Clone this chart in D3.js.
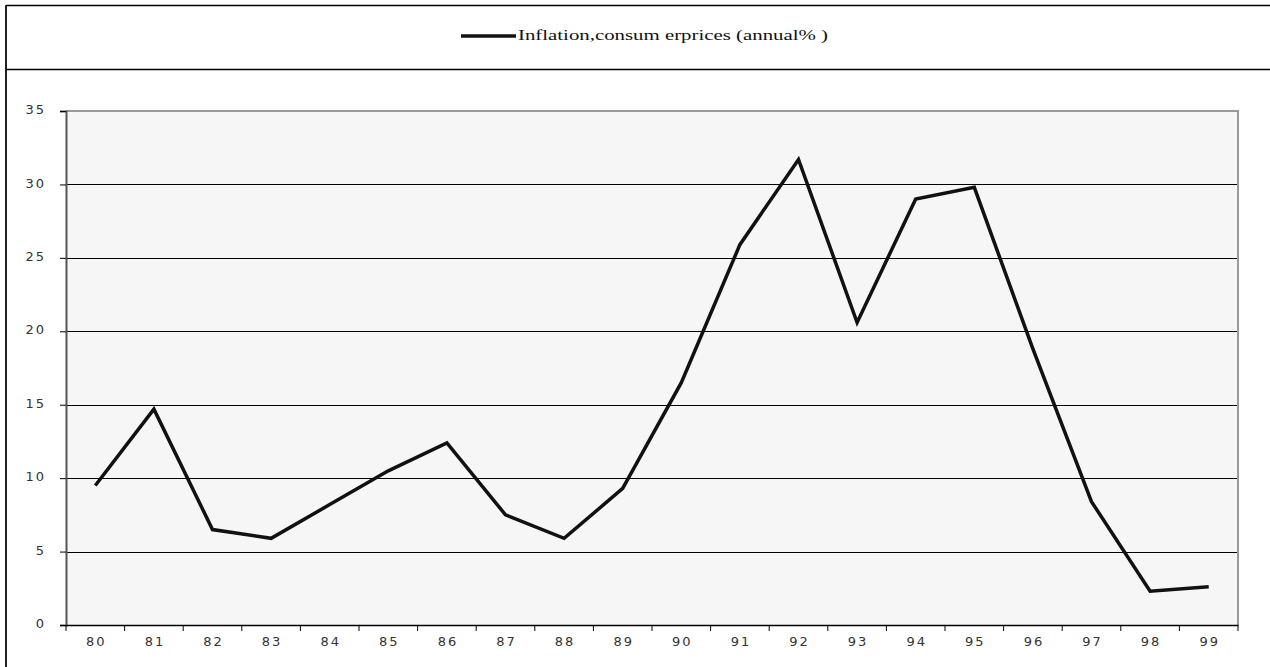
<!DOCTYPE html>
<html><head><meta charset="utf-8">
<script src="https://cdn.jsdelivr.net/npm/d3@7"></script>
<style>
html,body{margin:0;padding:0;background:#fff;}
svg{display:block;}
</style></head>
<body>
<svg id="chart" width="1270" height="667"></svg>
<script>
const categories = ["80","81","82","83","84","85","86","87","88","89","90","91","92","93","94","95","96","97","98","99"];
const inflation = [9.5,14.7,6.5,5.9,8.2,10.5,12.4,7.5,5.9,9.3,16.5,25.9,31.7,20.6,29.0,29.8,18.8,8.4,2.3,2.6];
const yTicks = [0,5,10,15,20,25,30,35];
const seriesName = "Inflation,consum erprices (annual% )";

const svg = d3.select("#chart");
const L = 66, R = 1238, T = 111, B = 625;

// outer frame
svg.append("line").attr("x1",6).attr("x2",6).attr("y1",5).attr("y2",667).attr("stroke","#222").attr("stroke-width",2);
svg.append("line").attr("x1",6).attr("x2",1270).attr("y1",5.5).attr("y2",5.5).attr("stroke","#000").attr("stroke-width",1.5);
svg.append("line").attr("x1",6).attr("x2",1270).attr("y1",69.5).attr("y2",69.5).attr("stroke","#000").attr("stroke-width",1.5);

const x = d3.scaleBand().domain(categories).range([L,R]).padding(0);
const y = d3.scaleLinear().domain([0,35]).range([B,T]);

// plot background
svg.append("rect").attr("x",L).attr("y",T).attr("width",R-L).attr("height",B-T).attr("fill","#f6f6f6");

// gridlines
svg.append("g").selectAll("line").data(yTicks.filter(d=>d>0 && d<35)).join("line")
  .attr("x1",L).attr("x2",R).attr("y1",d=>Math.round(y(d))+0.5).attr("y2",d=>Math.round(y(d))+0.5)
  .attr("stroke","#000").attr("stroke-width",1);

// plot border top/right
svg.append("line").attr("x1",L).attr("x2",R+1).attr("y1",T).attr("y2",T).attr("stroke","#999").attr("stroke-width",2);
svg.append("line").attr("x1",R).attr("x2",R).attr("y1",T).attr("y2",B).attr("stroke","#999").attr("stroke-width",2);

const axisFont = sel => sel.attr("font-family","DejaVu Sans").attr("font-size",13)
  .attr("letter-spacing","2px").attr("fill","#333");

// y axis
const yAxis = d3.axisLeft(y).tickValues(yTicks).tickSize(6).tickPadding(14).tickFormat(d3.format("d"));
const gy = svg.append("g").attr("transform",`translate(${L},0)`).call(yAxis);
gy.select(".domain").attr("stroke","#555").attr("stroke-width",2);
gy.selectAll(".tick line").attr("stroke","#000");
gy.selectAll("text").call(axisFont).attr("dy","0.2em");

// x axis
const xAxis = d3.axisBottom(x).tickSize(0).tickPadding(12);
const gx = svg.append("g").attr("transform",`translate(0,${B})`).call(xAxis);
gx.select(".domain").attr("stroke","#000").attr("stroke-width",1.5);
gx.selectAll("text").call(axisFont).attr("dx","1px");
// band boundary ticks
const bounds = categories.map(c=>x(c)).concat([R]);
svg.append("g").selectAll("line").data(bounds).join("line")
  .attr("x1",d=>d).attr("x2",d=>d).attr("y1",B).attr("y2",B+6).attr("stroke","#000").attr("stroke-width",1);

// line
const line = d3.line().x((d,i)=>x(categories[i])+x.bandwidth()/2).y(d=>y(d));
svg.append("path").datum(inflation).attr("d",line).attr("fill","none")
  .attr("stroke","#111").attr("stroke-width",3.5).attr("stroke-linejoin","miter");

// legend
svg.append("line").attr("x1",461).attr("x2",516).attr("y1",36).attr("y2",36).attr("stroke","#111").attr("stroke-width",3.5);
svg.append("text").attr("x",518).attr("y",40).text(seriesName)
  .attr("font-family","Liberation Serif").attr("font-size",15).attr("fill","#111")
  .attr("textLength",310).attr("lengthAdjust","spacingAndGlyphs");
</script>
</body></html>
